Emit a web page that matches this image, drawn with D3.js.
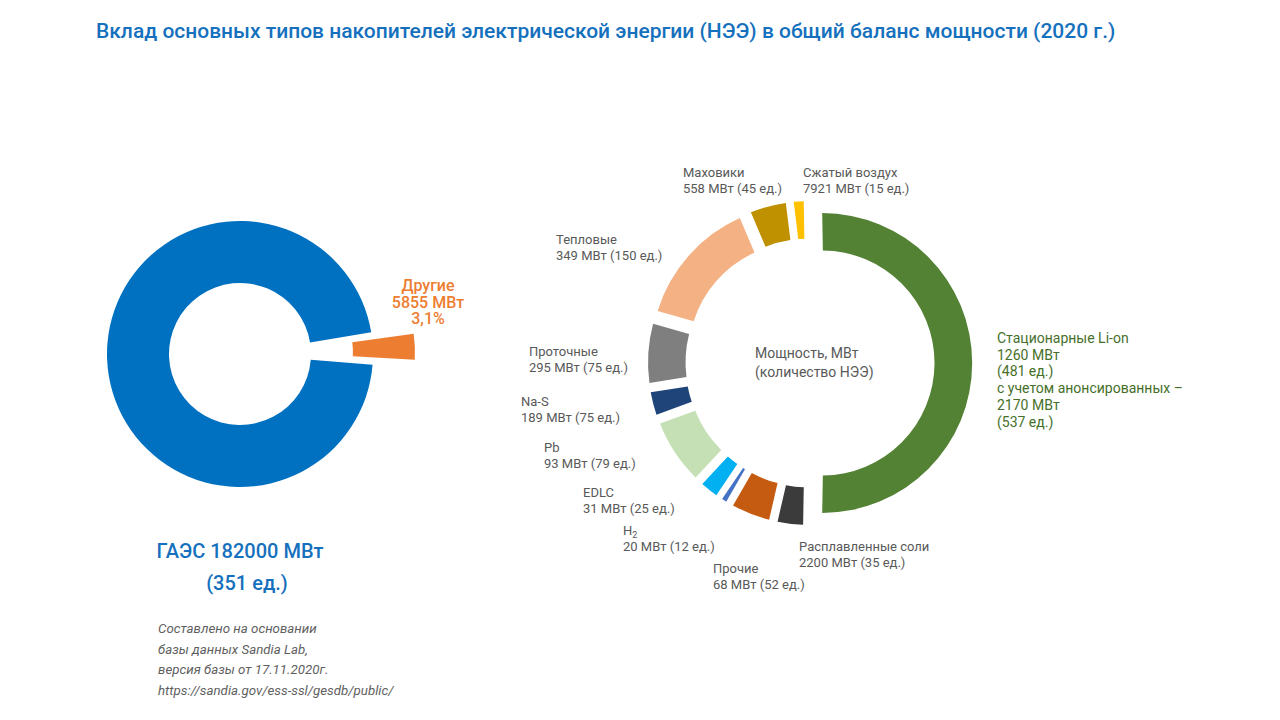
<!DOCTYPE html>
<html>
<head>
<meta charset="utf-8">
<script src="https://cdn.jsdelivr.net/npm/d3@7"></script>
<style>
  html, body { margin: 0; padding: 0; background: #ffffff; }
  svg { display: block; font-family: Roboto, "Noto Sans", sans-serif; }
</style>
</head>
<body>
<svg id="chart" width="1280" height="720"></svg>
<script>
// ---------------- DATA ----------------
const titleText = "Вклад основных типов накопителей электрической энергии (НЭЭ) в общий баланс мощности (2020 г.)";

// Left donut: pumped hydro vs everything else
const leftNames = ["Другие", "ГАЭС"];
const leftMW = [5855, 182000];
const leftUnits = [null, 351];

// Right donut: storage types other than pumped hydro
const rightNames = ["Стационарные Li-on", "Расплавленные соли", "Прочие", "H2", "EDLC", "Pb", "Na-S", "Проточные", "Тепловые", "Маховики", "Сжатый воздух"];
const rightMW = [1260, 2200, 68, 20, 31, 93, 189, 295, 349, 558, 7921];
const rightUnits = [481, 35, 52, 12, 25, 79, 75, 75, 150, 45, 15];
// slice shares as drawn in the picture (degrees of the ring)
const rightShare = [182, 12, 17, 4, 9, 27, 11, 25, 51, 16, 6];
const liAnnouncedMW = 2170;
const liAnnouncedUnits = 537;

const centerLines = ["Мощность, МВт", "(количество НЭЭ)"];
const sourceLines = ["Составлено на основании", "базы данных Sandia Lab,", "версия базы от 17.11.2020г.", "https://sandia.gov/ess-ssl/gesdb/public/"];

// ---------------- STYLE / LAYOUT ----------------
const leftColors = ["#ed7d31", "#0070c0"];
const rightColors = ["#548235", "#3b3b3b", "#c55a11", "#4472c4", "#00b0f0", "#c5e0b4", "#1f4479", "#7f7f7f", "#f4b183", "#bf9000", "#ffc000"];
const deg = Math.PI / 180;

const svg = d3.select("#chart");

// Title
svg.append("text")
  .attr("x", 96).attr("y", 38)
  .attr("font-size", 21).attr("font-weight", 500)
  .attr("fill", "#1570bd")
  .text(titleText);

// ---------- Left donut ----------
const L = { cx: 240, cy: 354, R: 133, r: 71, explode: [42, 0] };
const leftPie = d3.pie().sort(null).value(d => d)
  .startAngle(82 * deg).endAngle(442 * deg);
const leftArcs = leftPie(leftMW);
const leftArc = d3.arc().innerRadius(L.r).outerRadius(L.R);
const gL = svg.append("g").attr("transform", `translate(${L.cx},${L.cy})`);
gL.selectAll("path").data(leftArcs).join("path")
  .attr("d", (d, i) => i === 1
    ? leftArc({ ...d, startAngle: d.startAngle + 1.4 * deg, endAngle: d.endAngle - 1.4 * deg })
    : leftArc(d))
  .attr("fill", (d, i) => leftColors[i])
  .attr("transform", (d, i) => {
    const a = (d.startAngle + d.endAngle) / 2;
    const e = L.explode[i];
    return `translate(${e * Math.sin(a)},${-e * Math.cos(a)})`;
  });

const total = d3.sum(leftMW);
const pct = (leftMW[0] / total * 100).toFixed(1).replace(".", ",") + "%";
const otherLbl = svg.append("text")
  .attr("text-anchor", "middle").attr("font-size", 16).attr("font-weight", 500)
  .attr("fill", "#ed7d31");
[leftNames[0], `${leftMW[0]} МВт`, pct].forEach((t, i) => {
  otherLbl.append("tspan").attr("x", 428).attr("y", 291 + i * 16.5).text(t);
});

svg.append("text")
  .attr("x", 240).attr("y", 558).attr("text-anchor", "middle")
  .attr("font-size", 20).attr("font-weight", 500).attr("fill", "#1570bd")
  .text(`${leftNames[1]} ${leftMW[1]} МВт`);
svg.append("text")
  .attr("x", 247).attr("y", 590).attr("text-anchor", "middle")
  .attr("font-size", 20).attr("font-weight", 500).attr("fill", "#1570bd")
  .text(`(${leftUnits[1]} ед.)`);

const src = svg.append("text")
  .attr("font-size", 13.3).attr("font-style", "italic").attr("fill", "#5f5f5f");
sourceLines.forEach((t, i) => {
  src.append("tspan").attr("x", 158).attr("y", 633 + i * 20.7).text(t);
});

// ---------- Right donut ----------
const Rd = { cx: 810, cy: 363, R: 150, r: 112.5, explode: 12 };
const rightPie = d3.pie().sort(null).value(d => d)
  .startAngle(-1 * deg).endAngle(359 * deg);
const rightArcs = rightPie(rightShare);
const rightArc = d3.arc().innerRadius(Rd.r).outerRadius(Rd.R).padAngle(0.03);
const gR = svg.append("g").attr("transform", `translate(${Rd.cx},${Rd.cy})`);
gR.selectAll("path").data(rightArcs).join("path")
  .attr("d", rightArc)
  .attr("fill", (d, i) => rightColors[i])
  .attr("transform", d => {
    const a = (d.startAngle + d.endAngle) / 2;
    return `translate(${Rd.explode * Math.sin(a)},${-Rd.explode * Math.cos(a)})`;
  });

const ct = svg.append("text").attr("font-size", 14).attr("fill", "#595959");
centerLines.forEach((t, i) => {
  ct.append("tspan").attr("x", 755).attr("y", 358 + i * 19).text(t);
});

// label anchor positions (left x, first baseline) per slice
const labelPos = [
  [997, 343], [799, 551], [713, 573], [623, 535], [583, 497], [544, 452],
  [521, 406], [529, 356], [556, 244], [683, 177], [803, 177]
];

rightNames.forEach((name, i) => {
  if (i === 0) return;
  const [x, y] = labelPos[i];
  const t = svg.append("text").attr("font-size", 13).attr("fill", "#595959");
  const l1 = t.append("tspan").attr("x", x).attr("y", y);
  if (name === "H2") {
    l1.text("H");
    l1.append("tspan").attr("font-size", 9).attr("dy", 3).text("2");
  } else {
    l1.text(name);
  }
  t.append("tspan").attr("x", x).attr("y", y + 16)
    .text(`${rightMW[i]} МВт (${rightUnits[i]} ед.)`);
});

// Li-ion label (green)
{
  const [x, y] = labelPos[0];
  const lines = [rightNames[0], `${rightMW[0]} МВт`, `(${rightUnits[0]} ед.)`,
    "с учетом анонсированных –", `${liAnnouncedMW} МВт`, `(${liAnnouncedUnits} ед.)`];
  const t = svg.append("text").attr("font-size", 14).attr("fill", "#46702a");
  lines.forEach((s, i) => {
    t.append("tspan").attr("x", x).attr("y", y + i * 16.7).text(s);
  });
}
</script>
</body>
</html>
